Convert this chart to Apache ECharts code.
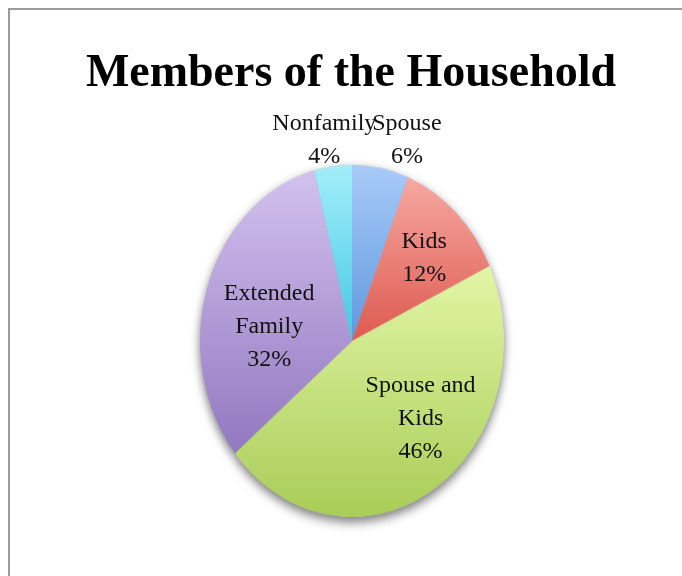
<!DOCTYPE html>
<html><head><meta charset="utf-8">
<script src="https://cdn.jsdelivr.net/npm/echarts@6/dist/echarts.min.js"></script>
<style>
html,body{margin:0;padding:0;background:#fff;width:682px;height:576px;overflow:hidden;}
#frame{position:absolute;left:8px;top:8px;width:700px;height:600px;border-left:2px solid #9a9a9a;border-top:2px solid #9a9a9a;}
#pie{position:absolute;left:152px;top:141px;width:400px;height:400px;transform:scaleY(1.158);transform-origin:200px 200px;}
#over{position:absolute;left:0;top:0;width:682px;height:576px;}
</style></head>
<body>
<div id="frame"></div>
<div id="pie"></div>
<div id="over"></div>
<script>
const titleText = 'Members of the Household';
const categories = ['Spouse', 'Kids', 'Spouse and\nKids', 'Extended\nFamily', 'Nonfamily'];
const values = [6, 12, 46, 32, 4];
const colorsTop = ['#a9cbf9', '#f6a9a2', '#e2f6a6', '#d3c2ef', '#a3eefa'];
const colorsBottom = ['#5f98dd', '#de5a50', '#a9cd58', '#9278c0', '#45c8e3'];

const grad = (a, b) => new echarts.graphic.LinearGradient(0, 0, 0, 1, [{offset:0,color:a},{offset:1,color:b}]);
const data = categories.map((c, i) => ({name: c, value: values[i],
  itemStyle: {color: grad(colorsTop[i], colorsBottom[i])}}));

const pieChart = echarts.init(document.getElementById('pie'), null, {renderer:'canvas'});
pieChart.setOption({
  animation:false,
  series:[
    {type:'pie', center:[200,200], radius:[0,152], startAngle:90, clockwise:true, silent:true, z:1,
     label:{show:false}, labelLine:{show:false},
     data: values.map(v=>({value:v})),
     itemStyle:{color:'#bbb', shadowBlur:10, shadowOffsetY:4, shadowColor:'rgba(0,0,0,0.55)'}},
    {type:'pie', center:[200,200], radius:[0,152], startAngle:90, clockwise:true, z:2,
     label:{show:false}, labelLine:{show:false}, data: data, itemStyle:{borderWidth:0}}
  ]
});

const offsets = [[39,-117],[14,-21],[23,6],[-2,12],[-17,-116]];
const overChart = echarts.init(document.getElementById('over'), null, {renderer:'canvas'});
overChart.setOption({
  animation:false,
  title:{text:titleText, left:346, textAlign:'center', top:46,
    textStyle:{fontFamily:'Liberation Serif', fontWeight:'bold', fontSize:46, color:'#000'}},
  series:[{type:'pie', center:[352,341], radius:[0,164], startAngle:90, clockwise:true,
    itemStyle:{color:'rgba(0,0,0,0)'},
    label:{show:true, position:'inside', formatter:p=>p.name+'\n'+p.value+'%',
      fontFamily:'Liberation Serif', fontSize:24, lineHeight:33, color:'#111', align:'center'},
    labelLine:{show:false},
    labelLayout:p=>({dx:offsets[p.dataIndex][0], dy:offsets[p.dataIndex][1]}),
    data: categories.map((c,i)=>({name:c, value:values[i]}))
  }]
});
</script>
</body></html>
